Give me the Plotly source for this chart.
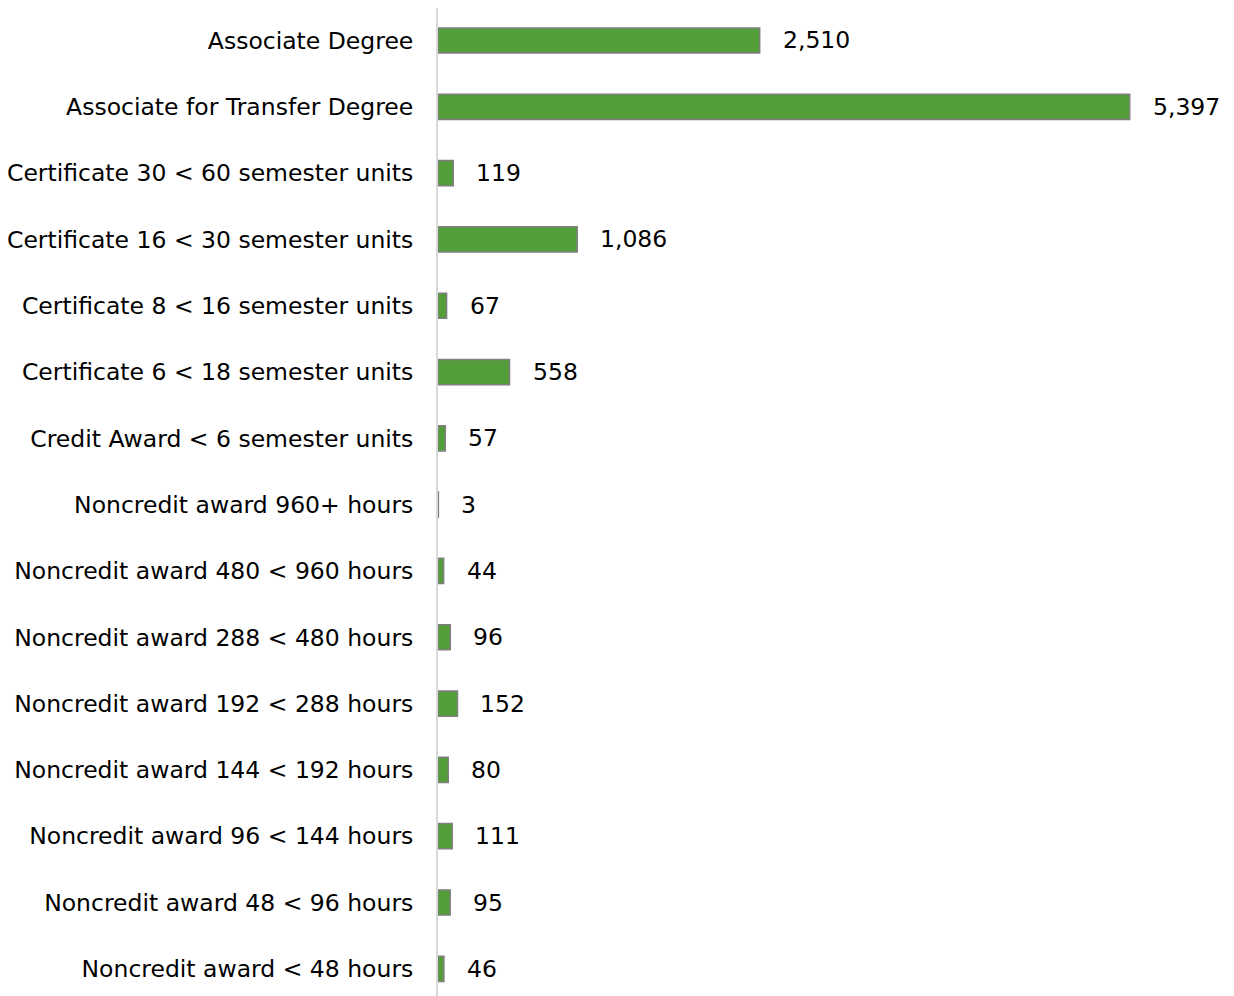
import plotly.graph_objects as go

categories = [
    "Associate Degree",
    "Associate for Transfer Degree",
    "Certificate 30 < 60 semester units",
    "Certificate 16 < 30 semester units",
    "Certificate 8 < 16 semester units",
    "Certificate 6 < 18 semester units",
    "Credit Award < 6 semester units",
    "Noncredit award 960+ hours",
    "Noncredit award 480 < 960 hours",
    "Noncredit award 288 < 480 hours",
    "Noncredit award 192 < 288 hours",
    "Noncredit award 144 < 192 hours",
    "Noncredit award 96 < 144 hours",
    "Noncredit award 48 < 96 hours",
    "Noncredit award < 48 hours",
]
values = [2510, 5397, 119, 1086, 67, 558, 57, 3, 44, 96, 152, 80, 111, 95, 46]

FONT = "DejaVu Sans"
SIZE = 23.5
fig = go.Figure()
fig.add_trace(go.Bar(
    y=categories, x=values, orientation="h",
    marker=dict(color="#549E39", line=dict(color="#7F7F7F", width=1.5)),
    width=0.38,
    hoverinfo="x+y",
))
for c, v in zip(categories, values):
    fig.add_annotation(x=v, y=c, text=f"{v:,}", showarrow=False,
                       xanchor="left", xshift=21, yanchor="middle",
                       font=dict(family=FONT, size=SIZE, color="#000000"))

fig.update_layout(
    width=1234, height=996,
    margin=dict(l=438, r=27, t=8, b=0),
    paper_bgcolor="white", plot_bgcolor="white",
    showlegend=False,
    font=dict(family=FONT, size=SIZE, color="#000000"),
    xaxis=dict(range=[0, 6000], visible=False, showgrid=False, zeroline=False),
    yaxis=dict(
        type="category",
        categoryorder="array", categoryarray=categories,
        range=[14.41, -0.49],
        showgrid=False, zeroline=False,
        showline=True, linecolor="#D9D9D9", linewidth=2,
        ticks="", ticklabelstandoff=18,
        tickfont=dict(family=FONT, size=SIZE, color="#000000"),
    ),
)
fig.write_html("out.html")
